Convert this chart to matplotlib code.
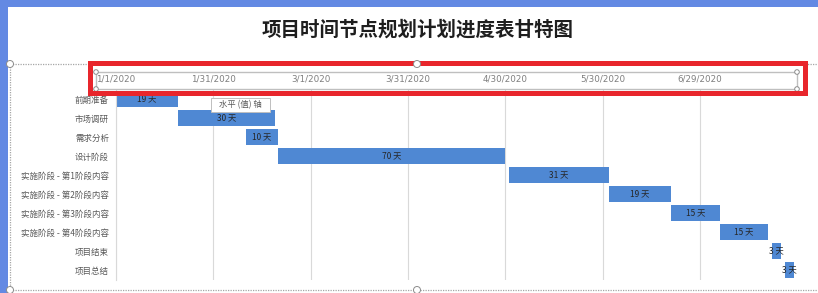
import datetime as dt
import matplotlib
matplotlib.use("Agg")
import matplotlib.pyplot as plt
import matplotlib.dates as mdates
from matplotlib.patches import Rectangle, Ellipse
from matplotlib.lines import Line2D

plt.rcParams['font.family'] = ['Noto Sans CJK SC', 'DejaVu Sans']

# ---- 数据 ----
tasks = ['前期准备', '市场调研', '需求分析', '设计阶段',
         '实施阶段 - 第1阶段内容', '实施阶段 - 第2阶段内容',
         '实施阶段 - 第3阶段内容', '实施阶段 - 第4阶段内容',
         '项目结束', '项目总结']
start_dates = ['2020-01-01', '2020-01-20', '2020-02-10', '2020-02-20',
               '2020-05-01', '2020-06-01', '2020-06-20', '2020-07-05',
               '2020-07-21', '2020-07-25']
durations = [19, 30, 10, 70, 31, 19, 15, 15, 3, 3]
axis_start = '2020-01-01'
axis_end = '2020-07-28'
tick_step = 30

W, H = 818, 293


def fx(x):
    return x / W


def fy(y):
    return 1 - y / H


def handle(cx, cy, r, z):
    fig.patches.append(Ellipse((fx(cx), fy(cy)), 2 * r / W, 2 * r / H,
                               transform=fig.transFigure, facecolor='white',
                               edgecolor='#8c8c8c', lw=0.7, zorder=z))


fig = plt.figure(figsize=(W / 100, H / 100), dpi=100)
fig.patch.set_facecolor('#6389e3')

# 白色图表区
fig.patches.append(Rectangle((fx(8), 0), 1, fy(7), transform=fig.transFigure,
                             facecolor='white', edgecolor='none', zorder=-2))

# 虚线边框
dot = dict(color='#a6a6a6', lw=0.9, linestyle=(0, (1, 1)), transform=fig.transFigure, zorder=1)
fig.add_artist(Line2D([fx(10), 1], [fy(64), fy(64)], **dot))
fig.add_artist(Line2D([fx(10), 1], [fy(290), fy(290)], **dot))
fig.add_artist(Line2D([fx(10), fx(10)], [fy(64), fy(290)], **dot))

ax = fig.add_axes([fx(116), fy(279.5), fx(796) - fx(116), fy(89.5) - fy(279.5)])
ax.set_facecolor('none')
ax.set_zorder(2)

starts = [mdates.date2num(dt.date.fromisoformat(s)) for s in start_dates]
ypos = list(range(len(tasks)))
ax.barh(ypos, durations, left=starts, height=0.88, color='#4f88d3', zorder=2)

for y, s, d in zip(ypos, starts, durations):
    ax.text(s + d / 2, y, f'{d} 天', ha='center', va='center',
            fontsize=6, color='#262626', zorder=3)

x0 = mdates.date2num(dt.date.fromisoformat(axis_start))
x1 = mdates.date2num(dt.date.fromisoformat(axis_end))
ax.set_xlim(x0, x1 + 0.5)
ax.set_ylim(len(tasks) - 0.5, -0.5)

ticks = []
t = x0
while t <= x1:
    ticks.append(t)
    t += tick_step
ax.set_xticks(ticks)
ax.set_xticklabels([f'{d.month}/{d.day}/{d.year}' for d in (mdates.num2date(v) for v in ticks)],
                   fontsize=6.3, color='#7f7f7f', family='DejaVu Sans')
ax.xaxis.tick_top()
ax.set_yticks(ypos)
ax.set_yticklabels(tasks, fontsize=6.1, color='#595959')
ax.tick_params(axis='x', length=0, pad=4)
ax.tick_params(axis='y', length=0, pad=5)
ax.grid(axis='x', color='#d9d9d9', lw=0.8, zorder=0)
for k in ['top', 'right', 'bottom']:
    ax.spines[k].set_visible(False)
ax.spines['left'].set_color('#d9d9d9')
ax.spines['left'].set_linewidth(0.8)

# 标题
fig.text(fx(418), fy(30), '项目时间节点规划计划进度表甘特图', ha='center', va='center',
         fontsize=14, fontweight='bold', color='#1e1e1e')

# 选中坐标轴的灰框与控制点
fig.patches.append(Rectangle((fx(96), fy(89)), fx(797) - fx(96), fy(72) - fy(89),
                             transform=fig.transFigure, facecolor='none',
                             edgecolor='#bfbfbf', lw=1.0, zorder=4))
for cx, cy in [(96, 72), (797, 72), (96, 89), (797, 89)]:
    handle(cx, cy, 2.3, 5)

# 红色框
fig.patches.append(Rectangle((fx(89.5), fy(93)), fx(805.5) - fx(89.5), fy(62.5) - fy(93),
                             transform=fig.transFigure, facecolor='none',
                             edgecolor='#e8262c', lw=3.6, zorder=6))

# 图表边框控制点
for cx, cy in [(10, 64), (417, 64), (10, 290), (417, 290)]:
    handle(cx, cy, 3.5, 7)

# 提示框
fig.patches.append(Rectangle((fx(211), fy(112)), fx(270) - fx(211), fy(98) - fy(112),
                             transform=fig.transFigure, facecolor='white',
                             edgecolor='#bfbfbf', lw=0.7, zorder=8))
fig.text(fx(240.5), fy(105), '水平 (值) 轴', ha='center', va='center',
         fontsize=6, color='#595959', zorder=9)

fig.savefig('out.png', dpi=100, facecolor=fig.get_facecolor())
